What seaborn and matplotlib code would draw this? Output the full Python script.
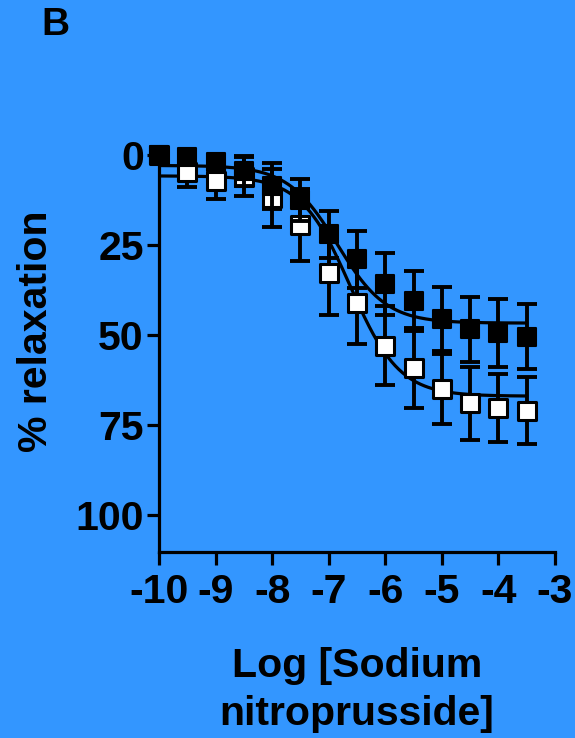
import numpy as np
import pandas as pd
import matplotlib
matplotlib.use("Agg")
import matplotlib.pyplot as plt
import seaborn as sns

# ---- data ----
log_conc = [-10, -9.5, -9, -8.5, -8, -7.5, -7, -6.5, -6, -5.5, -5, -4.5, -4, -3.5]
filled_mean = [0, 0.5, 2, 4.5, 8.6, 12.5, 22, 29, 35.8, 40.6, 45.6, 48.4, 49.4, 50.5]
filled_sem = [0.8, 1.5, 2, 4.2, 6.5, 5.8, 6.5, 7.9, 8.7, 8.4, 8.9, 9, 9.5, 9]
open_mean = [0, 4.6, 7.2, 6, 12, 19.5, 32.7, 41, 53, 59.2, 65, 69, 70.3, 71]
open_sem = [0.8, 4.2, 5, 5.5, 8, 10, 11.7, 11.4, 11, 11, 9.7, 10.2, 9.5, 9.3]
# sigmoidal fit parameters: top, bottom, logEC50, hill slope
filled_fit = [2.9, 46.7, -6.85, 1.0]
open_fit = [5.8, 67.0, -6.62, 1.0]
x_ticks = [-10, -9, -8, -7, -6, -5, -4, -3]
y_ticks = [0, 25, 50, 75, 100]

BG = "#3396FF"
FONT = "Liberation Sans"

sns.set_theme(style="ticks")
plt.rcParams["font.family"] = [FONT, "DejaVu Sans"]
plt.rcParams["font.weight"] = "bold"

fig = plt.figure(figsize=(5.75, 7.38), dpi=100, facecolor=BG)
ax = fig.add_axes([159 / 575, 1 - 552 / 738, 396 / 575, (552 - 147.8) / 738])
ax.set_facecolor(BG)


def fit_curve(p, xs):
    top, bottom, ec50, hill = p
    return top + (bottom - top) / (1 + 10 ** ((ec50 - xs) * hill))


xs = np.linspace(log_conc[0], log_conc[-1], 300)
curves = pd.concat([
    pd.DataFrame({"x": xs, "y": fit_curve(open_fit, xs), "g": "open"}),
    pd.DataFrame({"x": xs, "y": fit_curve(filled_fit, xs), "g": "filled"}),
])
sns.lineplot(data=curves, x="x", y="y", hue="g", palette={"open": "black", "filled": "black"},
             linewidth=2.3, legend=False, ax=ax, zorder=2)

lw = 2.8
# open squares
ax.errorbar(log_conc, open_mean, yerr=open_sem, fmt="none", ecolor="black",
            elinewidth=lw, capsize=7, capthick=lw, zorder=3)
sns.scatterplot(x=log_conc, y=open_mean, marker="s", s=165, color="white",
                edgecolor="black", linewidth=2.2, ax=ax, zorder=4, clip_on=False)
# filled squares
ax.errorbar(log_conc, filled_mean, yerr=filled_sem, fmt="none", ecolor="black",
            elinewidth=lw, capsize=7, capthick=lw, zorder=5)
sns.scatterplot(x=log_conc, y=filled_mean, marker="s", s=180, color="black",
                edgecolor="black", linewidth=1.5, ax=ax, zorder=6, clip_on=False)

ax.set_xlim(-10, -3)
ax.set_ylim(110.3, -2)
ax.set_xticks(x_ticks)
ax.set_xticklabels([str(t) for t in x_ticks])
ax.set_yticks(y_ticks)
ax.set_yticklabels([str(t) for t in y_ticks])

for s in ["top", "right"]:
    ax.spines[s].set_visible(False)
for s in ["left", "bottom"]:
    ax.spines[s].set_linewidth(2.3)
    ax.spines[s].set_color("black")
ax.spines["left"].set_bounds(0, 110.3)

ax.tick_params(axis="both", direction="out", length=9, width=2.3, color="black",
               labelsize=29.5, labelcolor="black")
ax.tick_params(axis="x", pad=6)
ax.tick_params(axis="y", pad=2)
for lab in ax.get_xticklabels() + ax.get_yticklabels():
    lab.set_fontweight("bold")

ax.set_xlabel("Log [Sodium\nnitroprusside]", fontsize=29.5, fontweight="bold", color="black",
              linespacing=1.33)
ax.xaxis.set_label_coords(0.5, (552 - 690) / 404.2)
ax.xaxis.label.set_va("center")
ax.set_ylabel("% relaxation", fontsize=29.5, fontweight="bold", color="black")
ax.yaxis.set_label_coords((36 - 159) / 396, (552 - 331) / 404.2)
ax.yaxis.label.set_va("center")

fig.text(55 / 575, 1 - 25 / 738, "B", fontsize=28, fontweight="bold", color="black",
         ha="center", va="center")

fig.savefig("out.png", dpi=100, facecolor=BG)
